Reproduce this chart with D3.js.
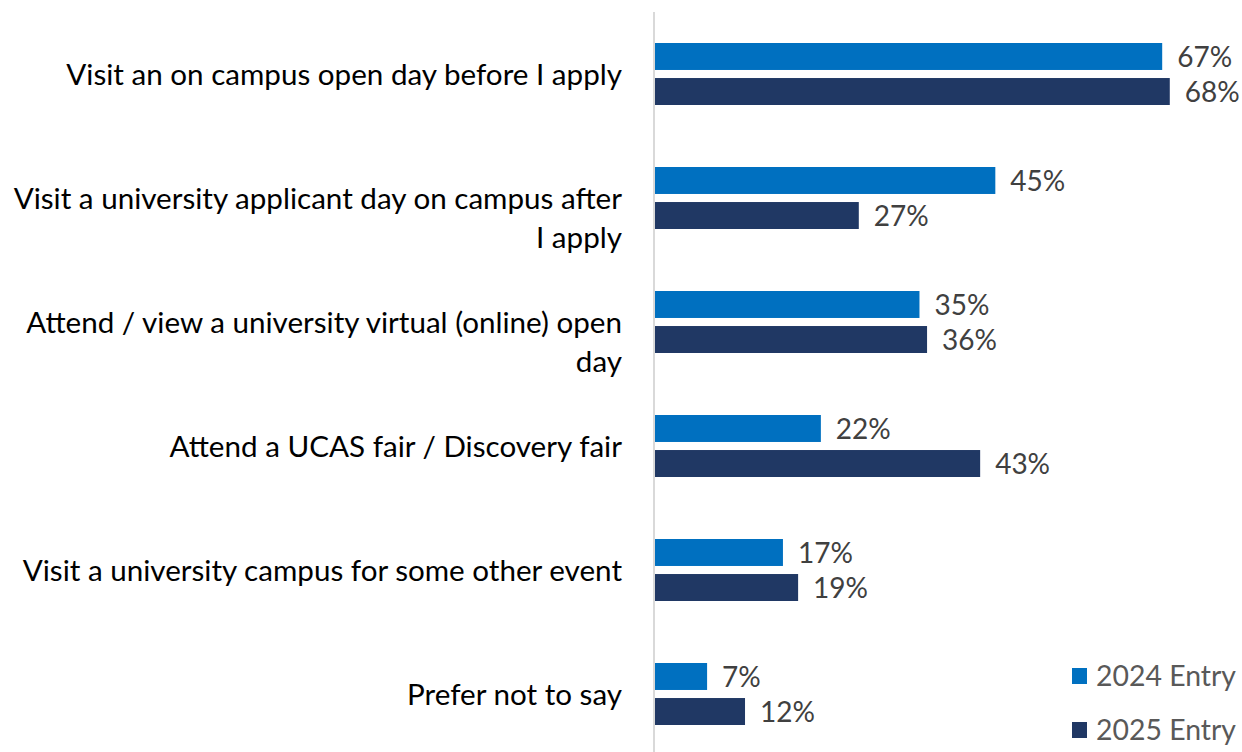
<!DOCTYPE html>
<html>
<head>
<meta charset="utf-8">
<script src="https://cdn.jsdelivr.net/npm/d3@7"></script>
<style>
  body { margin: 0; background: #fff; }
  svg text { font-family: Lato, "Open Sans", sans-serif; }
</style>
</head>
<body>
<div id="chart"></div>
<script>
// data
var categories = [
    ["Visit an on campus open day before I apply"],
    ["Visit a university applicant day on campus after", "I apply"],
    ["Attend / view a university virtual (online) open", "day"],
    ["Attend a UCAS fair / Discovery fair"],
    ["Visit a university campus for some other event"],
    ["Prefer not to say"]
];
var seriesNames = ["2024 Entry", "2025 Entry"];
var entry2024 = [0.67, 0.45, 0.35, 0.22, 0.17, 0.07];
var entry2025 = [0.68, 0.27, 0.36, 0.43, 0.19, 0.12];
var colors = ["#0070C0", "#203864"];

var width = 1242, height = 752;

function translate(x, y){
    return "translate(" + x + "," + y + ")";
}

var svg = d3.select("#chart")
            .append("svg")
            .attr("width", width)
            .attr("height", height);

var catIdx = d3.range(categories.length);

var yScale = d3.scaleBand()
    .domain(catIdx)
    .range([12, 756])
    .paddingInner(0.5)
    .paddingOuter(0.25);

var yInner = d3.scaleBand()
    .domain(seriesNames)
    .range([0, yScale.bandwidth()])
    .padding(0.23)
    .paddingOuter(0);

var xScale = d3.scaleLinear()
    .domain([0, 1])
    .range([654, 654 + 758.5]);

var rows = [];
catIdx.forEach(function(i){
    rows.push({cat: i, s: seriesNames[0], v: entry2024[i], c: colors[0]});
    rows.push({cat: i, s: seriesNames[1], v: entry2025[i], c: colors[1]});
});

// bars
svg.selectAll(".bar")
   .data(rows)
   .enter()
   .append("rect")
    .attr("class", "bar")
    .attr("x", xScale(0))
    .attr("y", function(d){ return yScale(d.cat) + yInner(d.s); })
    .attr("width", function(d){ return xScale(d.v) - xScale(0); })
    .attr("height", yInner.bandwidth())
    .style("fill", function(d){ return d.c; });

// value labels
svg.selectAll(".val")
   .data(rows)
   .enter()
   .append("text")
    .attr("class", "val")
    .attr("x", function(d){ return xScale(d.v) + 15; })
    .attr("y", function(d){ return yScale(d.cat) + yInner(d.s) + yInner.bandwidth() / 2; })
    .attr("dy", "0.36em")
    .style("font-size", "28px")
    .style("fill", "#404040")
    .text(function(d){ return d3.format(".0%")(d.v); });

// axis line
svg.append("line")
    .attr("x1", xScale(0)).attr("x2", xScale(0))
    .attr("y1", 12).attr("y2", height)
    .style("stroke", "#d9d9d9")
    .style("stroke-width", 2);

// category labels
var labels = svg.selectAll(".cat")
   .data(categories)
   .enter()
   .append("text")
    .attr("class", "cat")
    .attr("text-anchor", "end")
    .attr("transform", function(d, i){ return translate(622, yScale(i) + yScale.bandwidth() / 2); })
    .style("font-size", "29.6px")
    .style("fill", "#000");

labels.selectAll("tspan")
    .data(function(d){ return d; })
    .enter()
    .append("tspan")
    .attr("x", 0)
    .attr("y", function(d, i){ return i * 39; })
    .attr("dy", "0.36em")
    .text(function(d){ return d; });

// legend
var legend = svg.selectAll(".legend")
    .data(seriesNames)
    .enter()
    .append("g")
    .attr("class", "legend")
    .attr("transform", function(d, i){ return translate(1072, 676 + i * 54); });

legend.append("rect")
    .attr("x", 0).attr("y", -8)
    .attr("width", 15).attr("height", 16)
    .style("fill", function(d, i){ return colors[i]; });

legend.append("text")
    .attr("x", 24)
    .attr("dy", "0.36em")
    .style("font-size", "28.4px")
    .style("fill", "#595959")
    .text(function(d){ return d; });
</script>
</body>
</html>
